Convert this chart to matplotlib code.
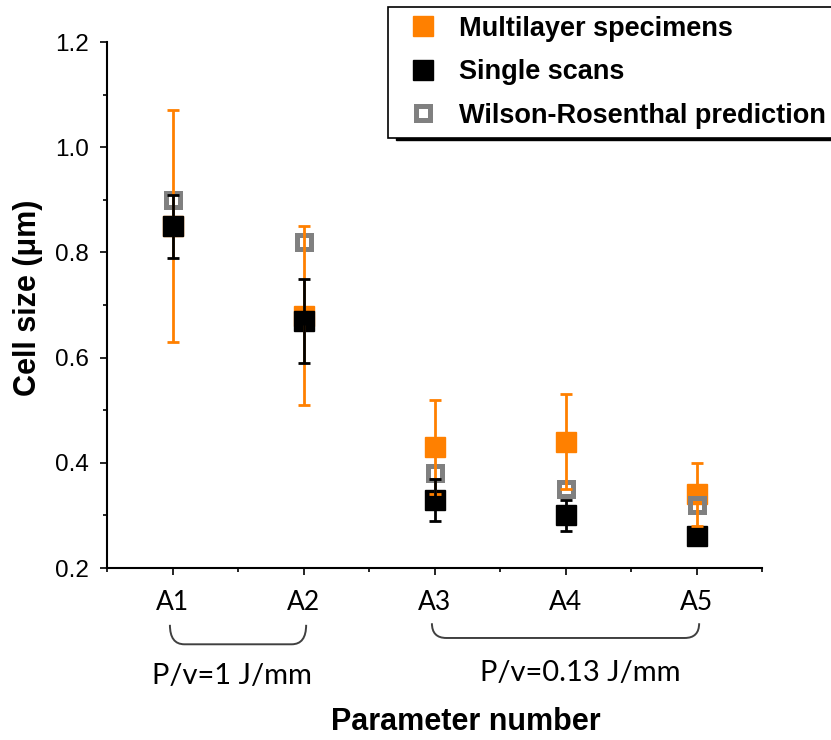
import matplotlib
matplotlib.use("Agg")
import matplotlib.pyplot as plt
import numpy as np
from matplotlib.path import Path
from matplotlib.patches import PathPatch, Rectangle
from matplotlib.lines import Line2D
import matplotlib.transforms as mtransforms

plt.rcParams['font.family'] = ['Liberation Sans', 'DejaVu Sans']

params = ['A1', 'A2', 'A3', 'A4', 'A5']
multilayer = [0.85, 0.68, 0.43, 0.44, 0.34]
multilayer_err = [0.22, 0.17, 0.09, 0.09, 0.06]
single = [0.85, 0.67, 0.33, 0.30, 0.26]
single_err = [0.06, 0.08, 0.04, 0.03, 0.01]
wilson = [0.90, 0.82, 0.38, 0.35, 0.32]
groups = [('P/v=1 J/mm', 0, 1), ('P/v=0.13 J/mm', 2, 4)]

orange = '#FF8000'
grey = '#808080'
ms = 14
lw = 2.0

fig = plt.figure(figsize=(8.31, 7.4), dpi=100)
ax = fig.add_axes([0.1288, 0.2324, 0.7882, 0.7108])
x = np.arange(1, len(params) + 1)

ax.set_xlim(0.5, 5.5)
ax.set_ylim(0.2, 1.2)

# orange markers at the bottom
ax.plot(x, multilayer, ls='none', marker='s', ms=ms, color=orange, zorder=2)

# black markers, their error bars go on top later
ax.plot(x, single, ls='none', marker='s', ms=ms, color='black', zorder=3)

# hollow grey markers
ax.plot(x, wilson, ls='none', marker='s', ms=9.4, mfc='none', mec=grey, mew=3.6, zorder=4)

# orange error bars start at the marker edge (Origin style)
px_per_unit = ax.bbox.height / (1.2 - 0.2)
half = ms * fig.dpi / 72 / 2 / px_per_unit
m = np.array(multilayer)
e = np.array(multilayer_err)
ax.vlines(x, m + half, m + e, color=orange, lw=lw, zorder=5)
ax.vlines(x, m - e, m - half, color=orange, lw=lw, zorder=5)
ax.plot(x, m + e, ls='none', marker='_', ms=8.6, mew=lw, color=orange, zorder=5)
ax.plot(x, m - e, ls='none', marker='_', ms=8.6, mew=lw, color=orange, zorder=5)

ax.errorbar(x, single, yerr=single_err, fmt='none', ecolor='black',
            elinewidth=lw, capsize=4.3, capthick=lw, zorder=6)

# axes styling
for side in ['top', 'right']:
    ax.spines[side].set_visible(False)
for side in ['left', 'bottom']:
    ax.spines[side].set_linewidth(1.5)
ax.set_xticks(x)
ax.set_xticklabels(params, family=['Lato', 'DejaVu Sans'], fontsize=19)
ax.set_xticks(np.arange(0.5, 5.6, 0.5), minor=True)
ax.set_yticks(np.arange(0.2, 1.21, 0.2))
ax.set_yticklabels(['%.1f' % v for v in np.arange(0.2, 1.21, 0.2)], fontsize=17.5)
ax.set_yticks(np.arange(0.3, 1.2, 0.2), minor=True)
ax.tick_params(which='major', direction='out', length=5, width=1.2)
ax.tick_params(which='minor', direction='out', length=3, width=1.2)
ax.tick_params(axis='y', which='major', pad=8)
ax.tick_params(axis='x', which='major', pad=11)

ax.set_ylabel('Cell size (\u03bcm)', fontsize=22, fontweight='bold')
ax.yaxis.set_label_coords(-0.098, 0.513)
ax.set_xlabel('Parameter number', fontsize=22, fontweight='bold')
ax.xaxis.set_label_coords(0.548, -0.265)

# curly brackets under the tick labels
trans = mtransforms.blended_transform_factory(ax.transData, ax.transAxes)
bracket_y = [(-0.108, -0.145), (-0.105, -0.133)]
for (label, i0, i1), (yt, yb) in zip(groups, bracket_y):
    x0 = x[i0] - 0.02
    x1 = x[i1] + 0.02
    r = 0.11
    verts = [(x0, yt), (x0, yb), (x0 + r, yb), (x1 - r, yb), (x1, yb), (x1, yt)]
    codes = [Path.MOVETO, Path.CURVE3, Path.CURVE3, Path.LINETO, Path.CURVE3, Path.CURVE3]
    ax.add_patch(PathPatch(Path(verts, codes), fill=False, ec='#404040', lw=1.4,
                           transform=trans, clip_on=False))
ax.text(1.45, -0.205, groups[0][0], transform=trans, ha='center', va='center',
        fontsize=21, family=['Lato', 'DejaVu Sans'])
ax.text(4.11, -0.20, groups[1][0], transform=trans, ha='center', va='center',
        fontsize=21, family=['Lato', 'DejaVu Sans'])

# legend, partly cut by the right edge, with a black shadow
handles = [
    Line2D([], [], ls='none', marker='s', ms=ms, color=orange),
    Line2D([], [], ls='none', marker='s', ms=ms, color='black'),
    Line2D([], [], ls='none', marker='s', ms=9.4, mfc='none', mec=grey, mew=3.6),
]
names = ['Multilayer specimens', 'Single scans', 'Wilson-Rosenthal prediction']
leg = fig.legend(handles, names, loc='upper left', bbox_to_anchor=(388 / 831, 1 - 7 / 740),
                 frameon=True, fancybox=False, edgecolor='black', framealpha=1,
                 prop={'weight': 'bold', 'size': 19.5}, borderaxespad=0,
                 handletextpad=0.35, labelspacing=0.64, borderpad=0.33, handlelength=1.95)
leg.get_frame().set_linewidth(1.2)
leg.set_zorder(6)
fig.add_artist(Rectangle((396 / 831, 1 - 140 / 740), 0.6, 126 / 740, transform=fig.transFigure,
                         color='black', zorder=5))

fig.savefig('out.png', dpi=100)
